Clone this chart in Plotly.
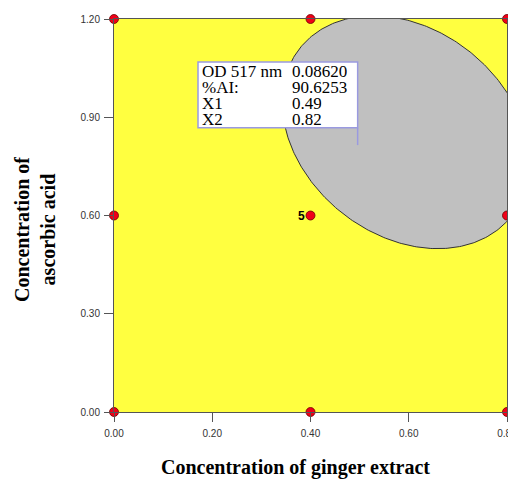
import numpy as np
import plotly.graph_objects as go

# Design points (ginger extract, ascorbic acid)
design_x = [0.0, 0.4, 0.8, 0.0, 0.4, 0.8, 0.0, 0.4, 0.8]
design_y = [0.0, 0.0, 0.0, 0.6, 0.6, 0.6, 1.2, 1.2, 1.2]

# Infeasible region (ellipse) parameters in data units
ell_center = (0.5938, 0.8544)
ell_axes = (0.2359, 0.3662)
ell_angle_deg = 18.18

# Flag values
flag_labels = ["OD 517 nm", "%AI:", "X1", "X2"]
flag_values = ["0.08620", "90.6253", "0.49", "0.82"]
flag_point = (0.49, 0.82)

x_ticks = [0.0, 0.2, 0.4, 0.6, 0.8]
y_ticks = [0.0, 0.3, 0.6, 0.9, 1.2]
x_ticktext = ["0.00", "0.20", "0.40", "0.60", "0.80"]
y_ticktext = ["0.00", "0.30", "0.60", "0.90", "1.20"]

t = np.linspace(0, 2 * np.pi, 400)
th = np.radians(ell_angle_deg)
a, b = ell_axes
ex = ell_center[0] + a * np.cos(t) * np.cos(th) - b * np.sin(t) * np.sin(th)
ey = ell_center[1] + a * np.cos(t) * np.sin(th) + b * np.sin(t) * np.cos(th)

fig = go.Figure()
fig.add_trace(go.Scatter(x=ex, y=ey, mode="lines", fill="toself",
                         fillcolor="#C0C0C0", line=dict(color="#333333", width=1),
                         hoverinfo="skip", showlegend=False))
fig.add_trace(go.Scatter(x=design_x, y=design_y, mode="markers",
                         marker=dict(size=9, color="#F00018", line=dict(color="#6a0000", width=0.8)),
                         cliponaxis=False, showlegend=False))

# Flag box
bx0, bx1, by0, by1 = 0.171, 0.496, 0.868, 1.069
fig.add_shape(type="rect", xref="x", yref="y", x0=bx0, x1=bx1, y0=by0, y1=by1,
              fillcolor="white", line=dict(color="#9a9ae0", width=1.5), layer="above")
fig.add_shape(type="line", xref="x", yref="y", x0=bx1, x1=bx1, y0=by0, y1=flag_point[1] - 0.005,
              line=dict(color="#9a9ae0", width=1.5), layer="above")
row_y = [1.039, 0.990, 0.941, 0.892]
for lab, val, ry in zip(flag_labels, flag_values, row_y):
    fig.add_annotation(x=0.177, y=ry, xref="x", yref="y", text=lab, showarrow=False,
                       xanchor="left", yanchor="middle", height=15, borderpad=0,
                       font=dict(family="Liberation Serif", size=17, color="black"))
    fig.add_annotation(x=0.3606, y=ry, xref="x", yref="y", text=val, showarrow=False,
                       xanchor="left", yanchor="middle", height=15, borderpad=0,
                       font=dict(family="Liberation Serif", size=17, color="black"))

# Center point replicate label
fig.add_annotation(x=0.4, y=0.6, xref="x", yref="y", text="<b>5</b>", showarrow=False,
                   xanchor="right", yanchor="middle", xshift=-4,
                   font=dict(family="Liberation Sans", size=12, color="black"))

# Axis titles
fig.add_annotation(x=0.4606, y=-0.14, xref="paper", yref="paper",
                   text="<b>Concentration of ginger extract</b>", showarrow=False,
                   xanchor="center", yanchor="middle",
                   font=dict(family="Liberation Serif", size=20, color="black"))
fig.add_annotation(x=-0.201, y=0.463, xref="paper", yref="paper",
                   text="<b>Concentration of<br>ascorbic acid</b>", showarrow=False,
                   xanchor="center", yanchor="middle", textangle=-90,
                   font=dict(family="Liberation Serif", size=20, color="black"))

axis_common = dict(showgrid=False, zeroline=False, showline=True, mirror=True,
                   linecolor="#555555", linewidth=1, ticks="outside", ticklen=9,
                   automargin=False, ticklabeloverflow="allow",
                   tickcolor="#555555", tickfont=dict(family="Liberation Sans", size=10, color="#333333"))
fig.update_xaxes(range=[0, 0.8], tickvals=x_ticks, ticktext=x_ticktext, ticklabelstandoff=3, **axis_common)
fig.update_yaxes(range=[0, 1.2], tickvals=y_ticks, ticktext=y_ticktext, ticklabelstandoff=2, **axis_common)

# page body has an 8px margin, so the figure is offset by (8, 8)
fig.update_layout(width=508, height=471, margin=dict(l=106, r=9, t=11, b=67, autoexpand=False),
                  paper_bgcolor="white", plot_bgcolor="#FFFF40", showlegend=False)
fig.write_html("out.html")
